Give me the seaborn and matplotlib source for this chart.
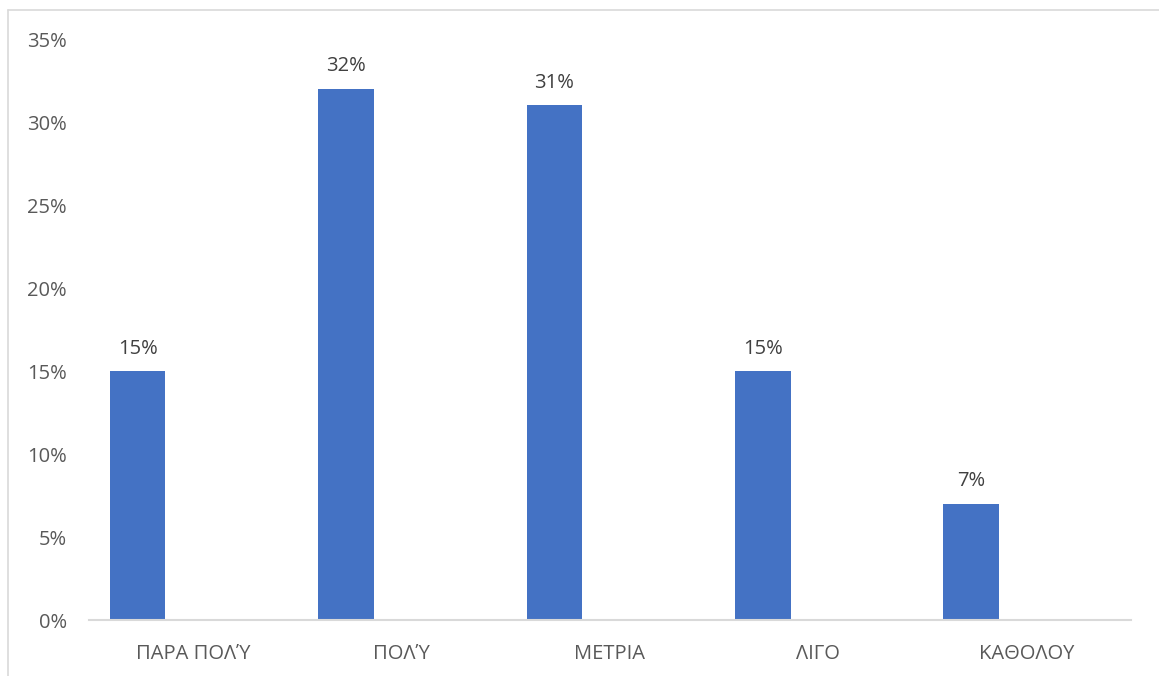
import pandas as pd
import matplotlib.pyplot as plt
import seaborn as sns
from matplotlib.lines import Line2D
from matplotlib.ticker import PercentFormatter

categories = ['ΠΑΡΑ ΠΟΛΎ', 'ΠΟΛΎ', 'ΜΕΤΡΙΑ', 'ΛΙΓΟ', 'ΚΑΘΟΛΟΥ']
values = [0.15, 0.32, 0.31, 0.15, 0.07]
series = ['Σειρά 1', 'Σειρά 2', 'Σειρά 3']

sns.set_theme(style='white')
plt.rcParams['font.family'] = ['Open Sans', 'DejaVu Sans']

rows = []
for c, v in zip(categories, values):
    rows.append({'cat': c, 'val': v, 'series': series[0]})
    for s in series[1:]:
        rows.append({'cat': c, 'val': float('nan'), 'series': s})
df = pd.DataFrame(rows)

fig = plt.figure(figsize=(11.59, 6.76), dpi=100)
ax = fig.add_axes([0.0768, 0.0828, 0.899, 0.8595])

sns.barplot(data=df, x='cat', y='val', hue='series', hue_order=series,
            order=categories, palette=['#4472C4'] * 3, width=0.8,
            legend=False, ax=ax, errorbar=None, saturation=1, linewidth=0)

for cont in ax.containers:
    if len(cont) and not pd.isna(cont.datavalues).all():
        ax.bar_label(cont, labels=[f'{v:.0%}' for v in cont.datavalues],
                     padding=9, fontsize=14.5, color='#404040')

ax.set_ylim(0, 0.35)
ax.set_xlim(-0.5, len(categories) - 0.5)
ax.set_yticks([i * 0.05 for i in range(8)])
ax.yaxis.set_major_formatter(PercentFormatter(1.0, decimals=0))
ax.set_xlabel('')
ax.set_ylabel('')
ax.tick_params(axis='both', length=0, labelsize=14.5, colors='#595959')
ax.tick_params(axis='y', pad=16)
ax.tick_params(axis='x', pad=17)

for side in ['top', 'right', 'left']:
    ax.spines[side].set_visible(False)
ax.spines['bottom'].set_color('#D9D9D9')
ax.spines['bottom'].set_linewidth(1.5)

# outer chart frame (left and top edges visible)
fig.add_artist(Line2D([8 / 1159, 8 / 1159], [0, 1 - 10 / 676],
                      color='#D9D9D9', lw=1.2))
fig.add_artist(Line2D([8 / 1159, 1], [1 - 10 / 676, 1 - 10 / 676],
                      color='#D9D9D9', lw=1.2))

fig.savefig('out.png', dpi=100)
